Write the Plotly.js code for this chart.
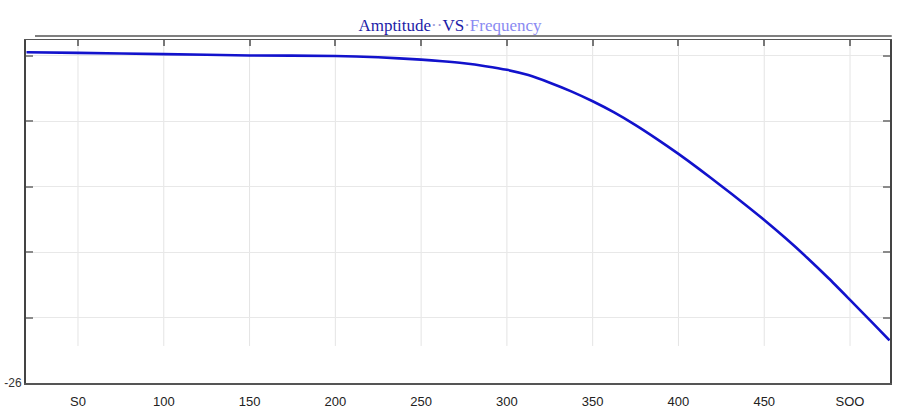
<!DOCTYPE html>
<html>
<head>
<meta charset="utf-8">
<script src="https://cdn.plot.ly/plotly-3.0.1.min.js"></script>
<style>html,body{margin:0;padding:0;background:#fff}#chart{width:900px;height:412px}</style>
</head>
<body>
<div id="chart"></div>
<script>
// Data
const freq = [20, 50, 100, 150, 200, 225, 250, 262.5, 275, 287.5, 300, 312.5, 325, 337.5, 350, 362.5, 375, 387.5, 400, 412.5, 425, 437.5, 450, 462.5, 475, 487.5, 500, 512, 523];
const amplitude = [-0.73, -0.78, -0.88, -0.98, -1.02, -1.12, -1.3, -1.42, -1.58, -1.8, -2.08, -2.48, -3.06, -3.72, -4.48, -5.33, -6.3, -7.37, -8.5, -9.7, -10.95, -12.23, -13.55, -14.95, -16.43, -18.0, -19.65, -21.25, -22.75];
const xTickVals = [50, 100, 150, 200, 250, 300, 350, 400, 450, 500];
const xTickText = ["S0", "100", "150", "200", "250", "300", "350", "400", "450", "SOO"];
const yTickVals = [-26, -21, -16, -11, -6, -1];
const yTickText = ["-26", "", "", "", "", ""];
const xTitle = "Frequency (MHz)";

const xRange = [19.7, 523.3];
const yRange = [-26, 0.2];

const traces = [
  {
    x: freq, y: amplitude, type: 'scatter', mode: 'lines',
    line: {color: '#1212cc', width: 2.6, shape: 'spline', smoothing: 0.6},
    hoverinfo: 'skip', xaxis: 'x', yaxis: 'y'
  },
  {
    x: freq, y: amplitude, type: 'scatter', mode: 'lines',
    line: {color: 'rgba(0,0,0,0)', width: 0},
    hoverinfo: 'skip', xaxis: 'x2', yaxis: 'y', showlegend: false
  }
];

const gridShapes = xTickVals.map(v => ({
  type: 'line', xref: 'x', yref: 'paper', x0: v, x1: v, y0: 0.108, y1: 1,
  line: {color: '#e4e4e4', width: 1}, layer: 'below'
}));
gridShapes.push({
  type: 'line', xref: 'paper', yref: 'paper', x0: 0.0104, x1: 1.002, y0: 1.012, y1: 1.012,
  line: {color: '#555', width: 1.5}
});

const layout = {
  width: 900, height: 412,
  margin: {l: 26, r: 10, t: 40, b: 29, pad: 0},
  paper_bgcolor: '#fff', plot_bgcolor: '#fff',
  showlegend: false,
  title: {
    text: '<span style="color:#1c1ca8">Amptitude</span><span style="color:#9a9ad8">··</span><span style="color:#1c1ca8">VS</span><span style="color:#9a9ad8">·</span><span style="color:#8a8af2">Frequency</span>',
    font: {family: 'Liberation Serif, DejaVu Serif, serif', size: 17},
    x: 0.5, xanchor: 'center', y: 0.938, yanchor: 'middle'
  },
  xaxis: {
    range: xRange, tickvals: xTickVals, ticktext: xTickText,
    showgrid: false, zeroline: false, ticks: '', ticklabelstandoff: 6,
    showline: true, linecolor: '#555', linewidth: 1.5, mirror: true,
    tickfont: {family: 'Liberation Sans, Arial, sans-serif', size: 13, color: '#222'}
  },
  xaxis2: {
    range: xRange, tickvals: xTickVals, overlaying: 'x', side: 'top', anchor: 'y',
    showticklabels: false, showgrid: false, zeroline: false,
    ticks: 'inside', ticklen: 6, tickwidth: 2, tickcolor: '#777', showline: false
  },
  yaxis: {
    range: yRange, tickvals: yTickVals, ticktext: yTickText,
    showgrid: true, gridcolor: '#e8e8e8', gridwidth: 1, zeroline: false,
    ticks: 'inside', ticklen: 7, tickwidth: 2, tickcolor: '#8a8a8a',
    showline: true, linecolor: '#444', linewidth: 2, mirror: 'ticks',
    tickfont: {family: 'Liberation Sans, Arial, sans-serif', size: 12, color: '#333'}
  },
  annotations: [{
    text: xTitle, xref: 'paper', yref: 'paper', x: 0.52, y: -0.07,
    xanchor: 'center', yanchor: 'top', showarrow: false,
    font: {family: 'Liberation Sans, Arial, sans-serif', size: 13, color: '#ececec'}
  }],
  shapes: gridShapes
};

Plotly.newPlot('chart', traces, layout, {staticPlot: true, displayModeBar: false});
</script>
</body>
</html>
